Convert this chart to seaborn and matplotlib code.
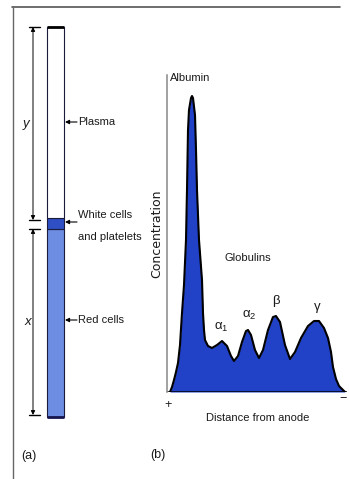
import matplotlib
matplotlib.use("Agg")
import matplotlib.pyplot as plt
import seaborn as sns
import pandas as pd
from matplotlib.lines import Line2D

# ---------------- data ----------------
# Panel (a): layers of a centrifuged blood tube (heights from tube bottom)
layer_names = ["Red cells", "White cells\nand platelets", "Plasma"]
layer_heights = [188, 11, 191]
layer_colors = ["#6d8de2", "#2f4fc4", "#ffffff"]

# Panel (b): electrophoresis trace (distance from anode, concentration)
distance = [3, 5, 7, 9, 11, 13, 15, 17, 19, 20, 21, 22, 24, 25, 26, 28, 29, 30,
            32, 35, 36, 37, 38, 41, 45, 50, 55, 60, 64, 67, 71, 75, 79, 81, 84,
            88, 92, 96, 101, 106, 109, 113, 118, 123, 128, 134, 141, 147, 152,
            157, 161, 164, 166, 169, 172, 176, 178]
concentration = [0, 5, 12, 20, 29, 47, 79, 107, 152, 202, 262, 282, 294, 296,
                 294, 277, 242, 202, 152, 112, 79, 62, 52, 46, 44, 47, 51, 46,
                 36, 31, 36, 50, 61, 62, 57, 42, 34, 42, 62, 75, 76, 70, 47, 33,
                 40, 54, 66, 71, 71, 64, 54, 40, 25, 13, 6, 2, 0]
peak_names = ["Albumin", r"$\mathregular{\alpha_1}$", r"$\mathregular{\alpha_2}$",
              "β", "γ"]

df = pd.DataFrame({"distance": distance, "concentration": concentration})

# ---------------- style ----------------
sns.set_theme(style="white")
plt.rcParams["font.family"] = ["Liberation Sans", "DejaVu Sans"]
plt.rcParams["mathtext.fontset"] = "custom"
plt.rcParams["mathtext.rm"] = "Liberation Sans"

W, H = 349, 479
fig = plt.figure(figsize=(W / 100, H / 100), dpi=100)
fig.patch.set_facecolor("white")

# frame lines of the scanned page
fig.add_artist(Line2D([12 / W, 340 / W], [1 - 7 / H, 1 - 7 / H], color="#555555", lw=1.2))
fig.add_artist(Line2D([13 / W, 13 / W], [0, 1 - 7 / H], color="#666666", lw=1.0))

tc = "#1a1a1a"
fs = 8

# ---------------- panel (a) ----------------
axa = fig.add_axes([0, 0, 160 / W, 1])
axa.set_xlim(0, 160)
axa.set_ylim(417 - H, 417)
axa.axis("off")

bottom = 0
for name, h, c in zip(layer_names, layer_heights, layer_colors):
    axa.bar(55.5, h, width=17, bottom=bottom, color=c,
            edgecolor="#1b1b3a", linewidth=0.8)
    bottom += h
tube_top = bottom
axa.plot([47, 64], [tube_top, tube_top], color="black", lw=2, solid_capstyle="butt")
axa.plot([47, 64], [0, 0], color="#151550", lw=2, solid_capstyle="butt")

# dimension arrows
xd = 33
y_top, y_mid1 = tube_top, layer_heights[0] + layer_heights[1] - 2
x_top = layer_heights[0]
for (a, b) in [(y_top, y_mid1), (x_top, 2)]:
    axa.annotate("", xy=(xd, a), xytext=(xd, b),
                 arrowprops=dict(arrowstyle="<|-|>", lw=0.7, color="black",
                                 mutation_scale=6, shrinkA=0, shrinkB=0))
for yy, half in [(y_top, 5.5), (y_mid1, 5.5), (x_top, 5.5), (2, 5.5)]:
    axa.plot([xd - half + 1, xd + half + 1], [yy, yy], color="black", lw=1.0)

axa.text(26, (y_top + y_mid1) / 2, "y", fontsize=fs + 1.5, style="italic",
         ha="center", va="center", color=tc)
axa.text(28, (x_top + 2) / 2, "x", fontsize=fs + 1.5, style="italic",
         ha="center", va="center", color=tc)

label_y = [417 - 122, 417 - 222, 417 - 320]
for ly in label_y:
    axa.annotate("", xy=(65, ly), xytext=(77, ly),
                 arrowprops=dict(arrowstyle="-|>", lw=0.8, color="black",
                                 mutation_scale=6, shrinkA=0, shrinkB=0))
axa.text(78, 417 - 122, layer_names[2], fontsize=fs, ha="left", va="center", color=tc)
axa.text(78, 417 - 226, layer_names[1], fontsize=fs, ha="left", va="center",
         color=tc, linespacing=2.5)
axa.text(78, 417 - 320, layer_names[0], fontsize=fs, ha="left", va="center", color=tc)
axa.text(29, 417 - 456, "(a)", fontsize=fs + 1, ha="center", va="center", color=tc)

# ---------------- panel (b) ----------------
axb = fig.add_axes([167 / W, (H - 392) / H, 180 / W, 317 / H])
axb.set_xlim(0, 180)
axb.set_ylim(0, 317)
axb.set_facecolor("none")
axb.fill_between(df["distance"], df["concentration"], 0, color="#2141c6", lw=0)
sns.lineplot(data=df, x="distance", y="concentration", ax=axb, color="black",
             lw=1.5, sort=False)
axb.axhline(0, color="black", lw=1.8, xmax=1.0)
for s in ["top", "right", "bottom"]:
    axb.spines[s].set_visible(False)
axb.spines["left"].set_color("#888888")
axb.spines["left"].set_linewidth(1.1)
axb.set_xticks([])
axb.set_yticks([])
axb.set_xlabel("")
axb.set_ylabel("")

axb.text(-10, 158, "Concentration", rotation=90, fontsize=9,
         family=["DejaVu Sans"], ha="center", va="center", color=tc, clip_on=False)
axb.text(91, -26, "Distance from anode", fontsize=fs, ha="center", va="center",
         color=tc, clip_on=False)
axb.text(1, -13, "+", fontsize=fs + 1, ha="center", va="center", color=tc, clip_on=False)
axb.text(176, -7, "−", fontsize=fs + 1, ha="center", va="center", color=tc, clip_on=False)
axb.text(-9, -63, "(b)", fontsize=fs + 1, ha="center", va="center", color=tc, clip_on=False)
axb.text(23, 314, peak_names[0], fontsize=fs, ha="center", va="center", color=tc, clip_on=False)
axb.text(81, 134, "Globulins", fontsize=fs, ha="center", va="center", color=tc)
axb.text(54, 65, peak_names[1], fontsize=fs + 1.5, ha="center", va="center", color=tc)
axb.text(82, 77, peak_names[2], fontsize=fs + 1.5, ha="center", va="center", color=tc)
axb.text(109, 91, peak_names[3], fontsize=fs + 1.5, ha="center", va="center", color=tc)
axb.text(150, 85, peak_names[4], fontsize=fs + 1.5, ha="center", va="center", color=tc)

fig.savefig("out.png", dpi=100, facecolor="white")
